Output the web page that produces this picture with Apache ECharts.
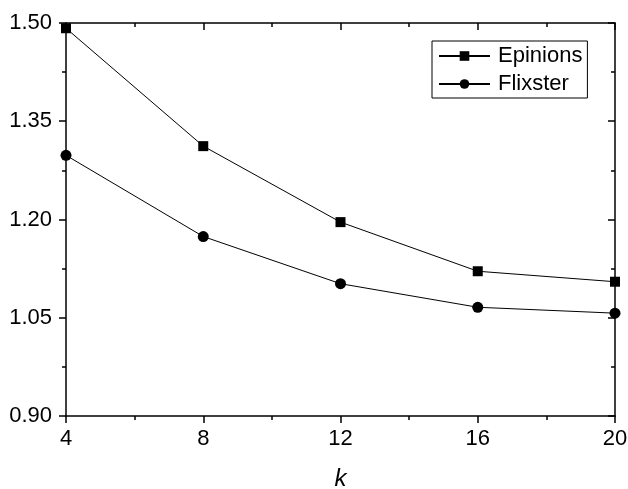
<!DOCTYPE html>
<html><head><meta charset="utf-8">
<script src="https://cdn.jsdelivr.net/npm/echarts@6/dist/echarts.min.js"></script>
<style>html,body{margin:0;padding:0;background:#fff}#c{width:628px;height:489px}</style>
</head><body><div id="c"></div>
<script>
const kValues = [4, 8, 12, 16, 20];
const epinions = [1.492, 1.312, 1.196, 1.121, 1.105];
const flixster = [1.298, 1.174, 1.102, 1.066, 1.057];
const seriesNames = ['Epinions', 'Flixster'];
const yTicks = [0.90, 1.05, 1.20, 1.35, 1.50];
const xTicks = [4, 8, 12, 16, 20];

const FONT = 'Liberation Sans, Arial, sans-serif';
const chart = echarts.init(document.getElementById('c'), null, {renderer: 'canvas'});
const axisLine = {show: true, lineStyle: {color: '#000', width: 1.5}};
const baseX = {
  type: 'value', min: xTicks[0], max: xTicks[xTicks.length - 1], interval: 4,
  axisLine: axisLine, splitLine: {show: false}
};
const baseY = {
  type: 'value', min: yTicks[0], max: yTicks[yTicks.length - 1], interval: 0.15,
  axisLine: axisLine, splitLine: {show: false}
};
chart.setOption({
  animation: false,
  backgroundColor: '#fff',
  grid: {left: 66, right: 13, top: 23, bottom: 73, containLabel: false, outerBoundsMode: 'none'},
  legend: {
    orient: 'vertical', left: 432, top: 41,
    padding: [4, 5, 3, 6], itemGap: 6, itemWidth: 51, itemHeight: 12,
    borderColor: '#000', borderWidth: 1,
    textStyle: {fontFamily: FONT, fontSize: 22, color: '#000', lineHeight: 22, padding: [0, 0, 0, 3]},
    data: seriesNames
  },
  xAxis: [
    Object.assign({}, baseX, {
      position: 'bottom',
      name: 'k', nameLocation: 'middle', nameGap: 51,
      nameTextStyle: {fontFamily: FONT, fontSize: 24, fontStyle: 'italic', color: '#000'},
      axisTick: {show: true, inside: false, length: 7, lineStyle: {color: '#000', width: 1.5}},
      minorTick: {show: true, splitNumber: 2, length: 4, lineStyle: {color: '#000', width: 1.5}},
      axisLabel: {fontFamily: FONT, fontSize: 22, color: '#000', margin: 12}
    }),
    Object.assign({}, baseX, {
      position: 'top',
      axisTick: {show: true, inside: true, length: 7, lineStyle: {color: '#000', width: 1.5}},
      minorTick: {show: true, splitNumber: 2, length: 4, lineStyle: {color: '#000', width: 1.5}},
      axisLabel: {show: false}
    })
  ],
  yAxis: [
    Object.assign({}, baseY, {
      position: 'left',
      axisTick: {show: true, inside: false, length: 7, lineStyle: {color: '#000', width: 1.5}},
      minorTick: {show: true, splitNumber: 2, length: 4, lineStyle: {color: '#000', width: 1.5}},
      axisLabel: {fontFamily: FONT, fontSize: 22, color: '#000', margin: 14,
        formatter: v => v.toFixed(2)}
    }),
    Object.assign({}, baseY, {
      position: 'right',
      axisTick: {show: true, inside: true, length: 7, lineStyle: {color: '#000', width: 1.5}},
      minorTick: {show: true, splitNumber: 2, length: 4, lineStyle: {color: '#000', width: 1.5}},
      axisLabel: {show: false}
    })
  ],
  series: [
    {
      name: seriesNames[0], type: 'line', xAxisIndex: 0, yAxisIndex: 0,
      data: kValues.map((k, i) => [k, epinions[i]]),
      symbol: 'rect', symbolSize: 10, clip: false,
      lineStyle: {color: '#000', width: 1}, itemStyle: {color: '#000'}
    },
    {
      name: seriesNames[1], type: 'line', xAxisIndex: 0, yAxisIndex: 0,
      data: kValues.map((k, i) => [k, flixster[i]]),
      symbol: 'circle', symbolSize: 11, clip: false,
      lineStyle: {color: '#000', width: 1}, itemStyle: {color: '#000'}
    }
  ]
});
</script></body></html>
